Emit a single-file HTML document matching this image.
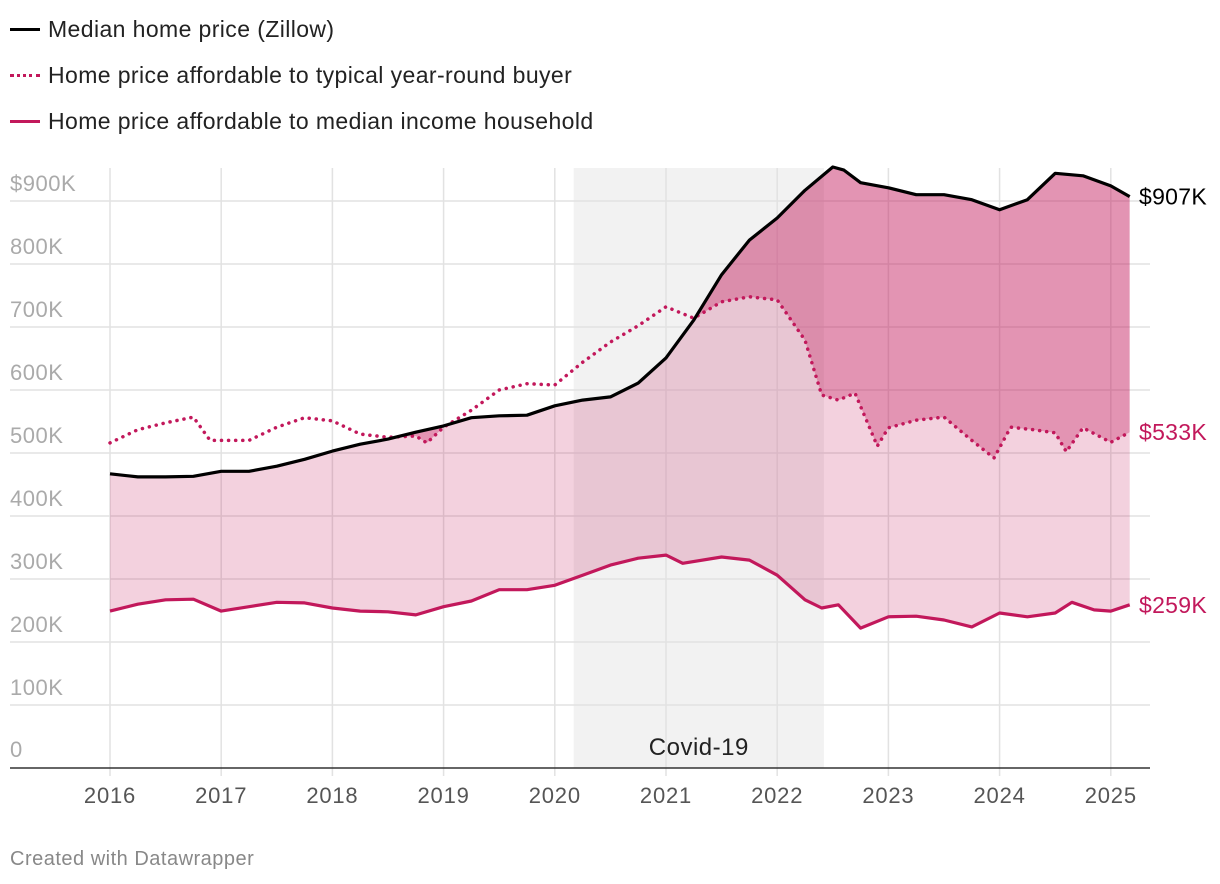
<!DOCTYPE html>
<html><head><meta charset="utf-8"><style>
body{margin:0;background:#fff;width:1220px;height:884px;overflow:hidden;font-family:"Liberation Sans",sans-serif}
.leg{position:absolute;left:10px;font-size:23px;letter-spacing:0.4px;color:#222;display:flex;align-items:center}
.sw{width:30px;margin-right:8px}
</style></head><body>
<div class="leg" style="top:16px"><div class="sw" style="border-top:3.5px solid #000"></div>Median home price (Zillow)</div>
<div class="leg" style="top:62px"><div class="sw" style="border-top:3.5px dotted #c2185b"></div>Home price affordable to typical year-round buyer</div>
<div class="leg" style="top:108px"><div class="sw" style="border-top:3.5px solid #c2185b"></div>Home price affordable to median income household</div>
<svg id="chart" width="1220" height="884" style="position:absolute;left:0;top:0"></svg>
<div style="position:absolute;left:10px;top:848px;font-size:20px;letter-spacing:0.5px;color:#888">Created with Datawrapper</div>
<script>
const yTicks=[0,100,200,300,400,500,600,700,800,900];
const xTicks=[2016,2017,2018,2019,2020,2021,2022,2023,2024,2025];
const medX=[2016,2016.25,2016.5,2016.75,2017,2017.25,2017.5,2017.75,2018,2018.25,2018.5,2018.75,2019,2019.25,2019.5,2019.75,2020,2020.25,2020.5,2020.75,2021,2021.25,2021.5,2021.75,2022,2022.25,2022.5,2022.6,2022.75,2023,2023.25,2023.5,2023.75,2024,2024.25,2024.5,2024.75,2025,2025.17];
const medY=[467,462,462,463,471,471,479,490,503,514,522,533,543,556,559,560,575,584,589,611,651,711,783,838,873,917,954,949,929,921,910,910,902,886,902,944,940,924,907];
const typX=[2016,2016.25,2016.5,2016.75,2016.9,2017.25,2017.5,2017.75,2018,2018.25,2018.5,2018.75,2018.85,2019,2019.25,2019.5,2019.75,2020,2020.25,2020.5,2020.75,2021,2021.25,2021.5,2021.75,2022,2022.25,2022.4,2022.55,2022.7,2022.9,2023,2023.25,2023.5,2023.75,2023.95,2024.1,2024.3,2024.5,2024.6,2024.75,2025,2025.17];
const typY=[516,537,548,557,520,520,541,556,551,530,525,527,516,541,568,600,610,608,644,676,702,732,714,740,748,743,679,592,584,595,511,540,552,557,520,492,541,537,532,502,540,517,533];
const incX=[2016,2016.25,2016.5,2016.75,2017,2017.25,2017.5,2017.75,2018,2018.25,2018.5,2018.75,2019,2019.25,2019.5,2019.75,2020,2020.25,2020.5,2020.75,2021,2021.15,2021.5,2021.75,2022,2022.25,2022.4,2022.55,2022.75,2023,2023.25,2023.5,2023.75,2024,2024.25,2024.5,2024.65,2024.85,2025,2025.17];
const incY=[249,260,267,268,249,256,263,262,254,249,248,243,256,265,283,283,290,306,322,333,338,325,335,330,306,267,254,259,222,240,241,235,224,246,240,246,263,251,249,259];
const covid=[2020.17,2022.42];
const sx=v=>110+(v-2016)*111.2, sy=v=>768-v*0.63;
const NS='http://www.w3.org/2000/svg', svg=document.getElementById('chart');
function mk(t,a,p){const e=document.createElementNS(NS,t);for(const k in a)e.setAttribute(k,a[k]);(p||svg).appendChild(e);return e;}
const pts=(X,Y)=>X.map((x,i)=>sx(x).toFixed(1)+','+sy(Y[i]).toFixed(1));
const band=mk('rect',{x:sx(covid[0]),y:168,width:sx(covid[1])-sx(covid[0]),height:600,fill:'#f2f2f2'});


yTicks.forEach(t=>{if(t>0){const g=mk('line',{x1:10,x2:1150,y1:sy(t),y2:sy(t),stroke:'#e2e2e2','stroke-width':1.5});}
const l=mk('text',{x:10,y:sy(t)-10+(t==0?-1:0),fill:'#aaa','font-size':22,'letter-spacing':0.5});l.textContent=t==0?'0':(t==900?'$900K':t+'K');});
xTicks.forEach(t=>{const g=mk('line',{x1:sx(t),x2:sx(t),y1:168,y2:776,stroke:'#e2e2e2','stroke-width':1.5});
const l=mk('text',{x:sx(t),y:803,fill:'#555','font-size':22,'letter-spacing':0.8,'text-anchor':'middle'});l.textContent=t;});
const ct=mk('text',{x:(sx(covid[0])+sx(covid[1]))/2,y:755,fill:'#222','font-size':24,'letter-spacing':0.5,'text-anchor':'middle'});ct.textContent='Covid-19';


const defs=mk('defs',{});const cp=mk('clipPath',{id:'below'},defs);
mk('polygon',{points:pts(medX,medY).join(' ')+` ${sx(medX[medX.length-1])},768 ${sx(2016)},768`},cp);
const lf=mk('polygon',{points:pts(medX,medY).concat(pts(incX,incY).reverse()).join(' '),fill:'rgba(194,24,91,0.2)'});


const df=mk('polygon',{points:pts(medX,medY).concat(pts(typX,typY).reverse()).join(' '),fill:'rgba(194,24,91,0.33)','clip-path':'url(#below)'});


const ax=mk('line',{x1:10,x2:1150,y1:768,y2:768,stroke:'#333','stroke-width':1.5});


const l1=mk('polyline',{points:pts(incX,incY).join(' '),fill:'none',stroke:'#c2185b','stroke-width':3.2,'stroke-linejoin':'round'});


const l2=mk('polyline',{points:pts(typX,typY).join(' '),fill:'none',stroke:'#c2185b','stroke-width':3.5,'stroke-dasharray':'0.1 7','stroke-linecap':'round'});


const l3=mk('polyline',{points:pts(medX,medY).join(' '),fill:'none',stroke:'#000','stroke-width':3.2,'stroke-linejoin':'round'});


[[medY,'#000','median-end-label'],[typY,'#c2185b','typical-end-label'],[incY,'#c2185b','income-end-label']].forEach(([Y,c,n])=>{const v=Y[Y.length-1];const t=mk('text',{x:1139,y:sy(v)+8,fill:c,'font-size':23,'letter-spacing':0.3});t.textContent='$'+v+'K';});
</script>
</body></html>
